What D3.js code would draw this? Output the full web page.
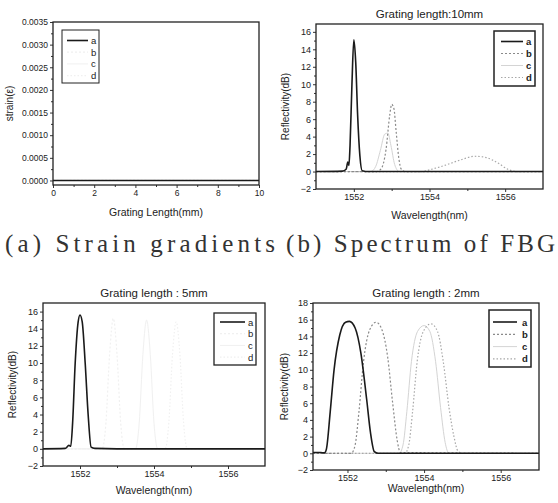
<!DOCTYPE html>
<html>
<head>
<meta charset="utf-8">
<script src="https://cdn.jsdelivr.net/npm/d3@7"></script>
<style>
  body { margin: 0; background: #fff; }
  svg { display: block; }
  text { font-family: "Liberation Sans", Arial, sans-serif; fill: #222; }
  .caption { font-family: "Liberation Serif", "DejaVu Serif", serif; font-size: 25px; fill: #333; }
</style>
</head>
<body>
<div id="chart"></div>
<script>
// Series names
var seriesNames = ["a", "b", "c", "d"];

// (a) strain along the grating, all four cases flat at zero
var strainX = [0, 10];
var strainA = [0, 0];
var strainB = [0, 0];
var strainC = [0, 0];
var strainD = [0, 0];
var strainTicks = [0, 0.0005, 0.001, 0.0015, 0.002, 0.0025, 0.003, 0.0035];
var lengthTicks = [0, 2, 4, 6, 8, 10];

// (b) grating length 10mm : [wavelength, reflectivity]
var g10A = [[1551, 0], [1551.7, 0.05], [1551.8, 0.3], [1551.84, 1.1], [1551.87, 0.7], [1551.9, 3], [1551.95, 10], [1552.0, 15.1], [1552.05, 12.5], [1552.1, 6.5], [1552.16, 1.8], [1552.22, 0.1], [1552.4, 0], [1557, 0]];
var g10B = [[1551, 0], [1552.6, 0], [1552.72, 0.3], [1552.85, 2.5], [1552.95, 6.5], [1553.0, 7.7], [1553.06, 7.2], [1553.12, 4.5], [1553.19, 1.5], [1553.25, 0.3], [1553.35, 0], [1557, 0]];
var g10C = [[1551, 0], [1552.45, 0], [1552.58, 0.6], [1552.7, 2.4], [1552.82, 4.3], [1552.9, 4.4], [1552.98, 3], [1553.08, 0.8], [1553.2, 0], [1557, 0]];
var g10D = [[1551, 0], [1553.8, 0], [1554.0, 0.2], [1554.4, 0.7], [1554.8, 1.3], [1555.2, 1.75], [1555.5, 1.6], [1555.8, 1.0], [1556.1, 0.2], [1556.3, 0], [1557, 0]];

// (c) grating length 5mm
var g5A = [[1551, 0], [1551.6, 0.05], [1551.7, 0.4], [1551.75, 0.3], [1551.8, 3], [1551.87, 10], [1551.95, 14.8], [1552.0, 15.6], [1552.06, 14.8], [1552.14, 10], [1552.22, 4], [1552.3, 0.2], [1552.4, 0.05], [1553, 0], [1557, 0]];
var g5B = [[1551, 0], [1552.6, 0], [1552.7, 3], [1552.8, 11], [1552.9, 15.2], [1553.0, 11], [1553.1, 3], [1553.2, 0], [1557, 0]];
var g5C = [[1551, 0], [1553.5, 0], [1553.6, 3], [1553.7, 11], [1553.8, 15], [1553.9, 11], [1554.0, 3], [1554.1, 0], [1557, 0]];
var g5D = [[1551, 0], [1554.3, 0], [1554.4, 3], [1554.5, 11], [1554.6, 14.8], [1554.7, 11], [1554.8, 3], [1554.9, 0], [1557, 0]];

// (d) grating length 2mm
var g2A = [[1551.1, 0.1], [1551.3, 0.1], [1551.4, 0.05], [1551.45, 0.5], [1551.55, 5], [1551.65, 10], [1551.8, 14.2], [1551.95, 15.7], [1552.05, 15.8], [1552.2, 15], [1552.35, 12], [1552.5, 6.5], [1552.6, 2.5], [1552.7, 0.2], [1552.8, 0], [1557, 0]];
var g2B = [[1551.1, 0], [1552.1, 0], [1552.2, 1], [1552.3, 5], [1552.42, 11], [1552.58, 14.8], [1552.75, 15.7], [1552.9, 14.8], [1553.05, 11.5], [1553.18, 6], [1553.3, 1.5], [1553.38, 0.1], [1557, 0]];
var g2C = [[1551.1, 0], [1553.35, 0], [1553.45, 1], [1553.55, 5], [1553.67, 11], [1553.83, 14.6], [1554.0, 15.3], [1554.15, 14.6], [1554.3, 11], [1554.43, 5.5], [1554.55, 1.3], [1554.65, 0], [1557, 0]];
var g2D = [[1551.1, 0], [1553.5, 0], [1553.6, 1], [1553.7, 5], [1553.82, 11], [1553.98, 14.6], [1554.18, 15.5], [1554.35, 14.6], [1554.5, 11], [1554.65, 5.5], [1554.78, 2], [1554.88, 0.3], [1555, 0], [1557, 0]];

var reflTicks = [-2, 0, 2, 4, 6, 8, 10, 12, 14, 16];
var reflTicks18 = [-2, 0, 2, 4, 6, 8, 10, 12, 14, 16, 18];
var waveTicks = [1552, 1554, 1556];

// line styles for a, b, c, d
var styles = [
  { color: "#1a1a1a", width: 1.6, dash: null },
  { color: "#8a8a8a", width: 1.2, dash: "2,2" },
  { color: "#d4d4d4", width: 1, dash: null },
  { color: "#a8a8a8", width: 1.2, dash: "1.5,2" }
];
var faintColor = "#f0f0f0";

var toPoints = function(xs, ys) {
  return xs.map(function(x, i) { return [x, ys[i]]; });
};

var W = 558, H = 503;
var svg = d3.select("#chart").append("svg").attr("width", W).attr("height", H);

var renderPanel = function(config) {
  var box = config.box;
  var g = svg.append("g");

  var xScale = d3.scaleLinear().domain(config.xDomain).range([box.left, box.right]);
  var yScale = d3.scaleLinear().domain(config.yDomain).range([box.bottom, box.top]);

  // data lines, clipped to frame
  var clipId = "clip-" + config.id;
  g.append("clipPath").attr("id", clipId)
    .append("rect")
    .attr("x", box.left).attr("y", box.top)
    .attr("width", box.right - box.left).attr("height", box.bottom - box.top);

  var line = d3.line()
    .x(function(d) { return xScale(d[0]); })
    .y(function(d) { return yScale(d[1]); })
    .curve(d3.curveMonotoneX);

  // draw lighter series first so the solid one stays on top
  [2, 3, 1, 0].forEach(function(i) {
    var s = styles[i];
    g.append("path")
      .attr("clip-path", "url(#" + clipId + ")")
      .attr("d", line(config.series[i]))
      .attr("fill", "none")
      .attr("stroke", config.legendVisible[i] ? s.color : faintColor)
      .attr("stroke-width", s.width)
      .attr("stroke-dasharray", s.dash);
  });

  // axes
  var xAxis = d3.axisBottom(xScale).tickValues(config.xTicks).tickSize(3).tickPadding(2)
    .tickFormat(config.xFormat);
  var xMinor = d3.axisBottom(xScale).tickValues(config.xMinor).tickSize(2).tickFormat("");
  var yAxis = d3.axisLeft(yScale).tickValues(config.yTicks).tickSize(3).tickPadding(2)
    .tickFormat(config.yFormat);
  var yMinor = d3.axisLeft(yScale).tickValues(config.yMinor).tickSize(2).tickFormat("");

  [xAxis, xMinor].forEach(function(ax) {
    g.append("g").attr("transform", "translate(0," + box.bottom + ")").call(ax)
      .call(function(s) { s.select(".domain").remove(); })
      .selectAll("text").attr("font-size", config.tickFont).style("font-family", "Liberation Sans, Arial, sans-serif").attr("fill", "#222");
  });
  [yAxis, yMinor].forEach(function(ax) {
    g.append("g").attr("transform", "translate(" + box.left + ",0)").call(ax)
      .call(function(s) { s.select(".domain").remove(); })
      .selectAll("text").attr("font-size", config.tickFont).style("font-family", "Liberation Sans, Arial, sans-serif").attr("fill", "#222");
  });
  g.selectAll(".tick line").attr("stroke", "#333");

  // frame
  g.append("rect")
    .attr("x", box.left).attr("y", box.top)
    .attr("width", box.right - box.left).attr("height", box.bottom - box.top)
    .attr("fill", "none").attr("stroke", "#222").attr("stroke-width", 1.3);

  // title
  if (config.title) {
    g.append("text")
      .attr("x", (box.left + box.right) / 2).attr("y", box.top - 6)
      .attr("text-anchor", "middle").attr("font-size", 11.5)
      .text(config.title);
  }

  // axis labels
  g.append("text")
    .attr("x", (box.left + box.right) / 2).attr("y", config.xLabelY)
    .attr("text-anchor", "middle").attr("font-size", 10.5)
    .text(config.xLabel);
  g.append("text")
    .attr("transform", "translate(" + config.yLabelX + "," + (box.top + box.bottom) / 2 + ") rotate(-90)")
    .attr("text-anchor", "middle").attr("font-size", 10)
    .text(config.yLabel);

  // legend
  var lg = config.legend;
  g.append("rect")
    .attr("x", lg.x).attr("y", lg.y).attr("width", lg.w).attr("height", lg.h)
    .attr("fill", "#fff").attr("stroke", "#222").attr("stroke-width", lg.stroke);
  seriesNames.forEach(function(name, i) {
    var s = styles[i];
    var yy = lg.y + lg.first + i * lg.step;
    g.append("line")
      .attr("x1", lg.x + lg.lineX0).attr("x2", lg.x + lg.lineX1)
      .attr("y1", yy).attr("y2", yy)
      .attr("stroke", config.legendVisible[i] ? s.color : faintColor)
      .attr("stroke-width", s.width)
      .attr("stroke-dasharray", s.dash);
    g.append("text")
      .attr("x", lg.x + lg.textX).attr("y", yy + 3.5)
      .attr("font-size", 9.5).attr("font-weight", lg.bold ? "bold" : "normal")
      .text(name);
  });
};

var strainFormat = d3.format(".4f");
var plainFormat = d3.format("d");

renderPanel({
  id: "a",
  box: { left: 53, right: 259, top: 22, bottom: 185 },
  xDomain: [0, 10], yDomain: [-0.0001, 0.0035],
  xTicks: lengthTicks, xMinor: [1, 3, 5, 7, 9],
  yTicks: strainTicks, yMinor: [0.00025, 0.00075, 0.00125, 0.00175, 0.00225, 0.00275, 0.00325],
  xFormat: plainFormat, yFormat: strainFormat, tickFont: 8.5,
  series: [toPoints(strainX, strainA), toPoints(strainX, strainB), toPoints(strainX, strainC), toPoints(strainX, strainD)],
  xLabel: "Grating Length(mm)", xLabelY: 216,
  yLabel: "strain(ε)", yLabelX: 13,
  legend: { x: 62, y: 30, w: 37, h: 53, stroke: 1, first: 10.5, step: 11.7, lineX0: 5, lineX1: 26, textX: 29, bold: false },
  legendVisible: [true, false, false, false]
});

renderPanel({
  id: "b",
  box: { left: 316, right: 543, top: 24, bottom: 189 },
  xDomain: [1551, 1557], yDomain: [-2, 16.9],
  xTicks: waveTicks, xMinor: [1553, 1555],
  yTicks: reflTicks, yMinor: [-1, 1, 3, 5, 7, 9, 11, 13, 15],
  xFormat: plainFormat, yFormat: plainFormat, tickFont: 9,
  series: [g10A, g10B, g10C, g10D],
  title: "Grating length:10mm",
  xLabel: "Wavelength(nm)", xLabelY: 219,
  yLabel: "Reflectivity(dB)", yLabelX: 289,
  legend: { x: 494, y: 31, w: 41, h: 55, stroke: 1.5, first: 10.5, step: 12, lineX0: 7, lineX1: 29, textX: 32, bold: true },
  legendVisible: [true, true, true, true]
});

renderPanel({
  id: "c",
  box: { left: 43, right: 265, top: 303, bottom: 466 },
  xDomain: [1551, 1557], yDomain: [-2, 17],
  xTicks: waveTicks, xMinor: [1553, 1555],
  yTicks: reflTicks, yMinor: [-1, 1, 3, 5, 7, 9, 11, 13, 15],
  xFormat: plainFormat, yFormat: plainFormat, tickFont: 9,
  series: [g5A, g5B, g5C, g5D],
  title: "Grating length : 5mm",
  xLabel: "Wavelength(nm)", xLabelY: 494,
  yLabel: "Reflectivity(dB)", yLabelX: 16,
  legend: { x: 214, y: 313, w: 42, h: 52, stroke: 1.3, first: 9, step: 11.7, lineX0: 6, lineX1: 31, textX: 34, bold: false },
  legendVisible: [true, false, false, false]
});

renderPanel({
  id: "d",
  box: { left: 313, right: 539, top: 303, bottom: 470 },
  xDomain: [1551.1, 1557], yDomain: [-2, 18],
  xTicks: waveTicks, xMinor: [1553, 1555],
  yTicks: reflTicks18, yMinor: [-1, 1, 3, 5, 7, 9, 11, 13, 15, 17],
  xFormat: plainFormat, yFormat: plainFormat, tickFont: 9,
  series: [g2A, g2B, g2C, g2D],
  title: "Grating length : 2mm",
  xLabel: "Wavelength(nm)", xLabelY: 492,
  yLabel: "Reflectivity(dB)", yLabelX: 288,
  legend: { x: 489, y: 310, w: 42, h: 57, stroke: 1.5, first: 12, step: 12.3, lineX0: 4, lineX1: 28, textX: 33, bold: true },
  legendVisible: [true, true, true, true]
});

// captions under the top row
svg.append("text").attr("class", "caption")
  .attr("x", 5).attr("y", 252)
  .attr("textLength", 270).attr("lengthAdjust", "spacing")
  .text("(a) Strain gradients");
svg.append("text").attr("class", "caption")
  .attr("x", 286).attr("y", 252)
  .attr("textLength", 269).attr("lengthAdjust", "spacing")
  .text("(b) Spectrum of FBG");
</script>
</body>
</html>
